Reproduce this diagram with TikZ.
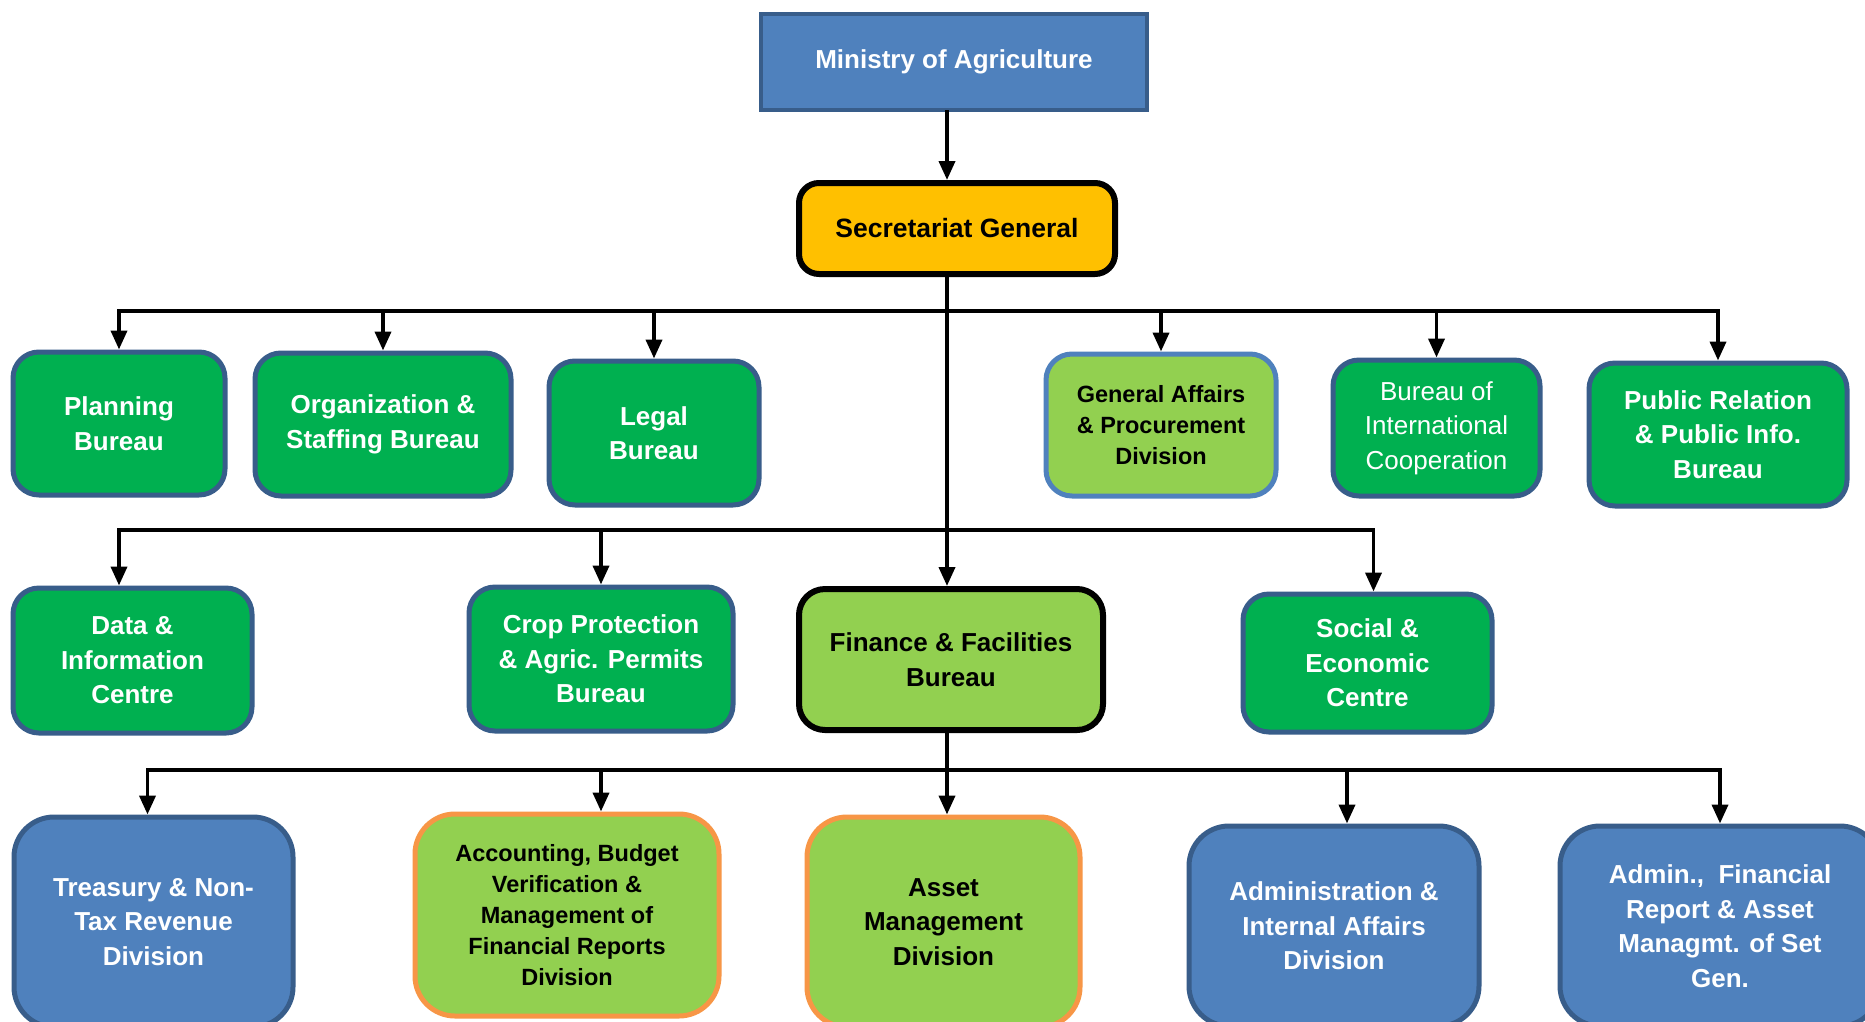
\documentclass[tikz,border=0pt]{standalone}
\usepackage{fontspec}
\setmainfont{Liberation Sans}
\usepackage{xcolor}
\usetikzlibrary{positioning,arrows.meta}
\definecolor{minblue}{HTML}{4F81BD}
\definecolor{minedge}{HTML}{385D8A}
\definecolor{bureaugreen}{HTML}{00B050}
\definecolor{divlime}{HTML}{92D050}
\definecolor{divorange}{HTML}{F79646}
\definecolor{sgyellow}{HTML}{FFC000}

\tikzset{
    unit/.style={draw=minedge, line width=5pt, rounded corners=26pt, inner sep=0pt, align=center,
        font=\bfseries\fontsize{26}{34.5}\selectfont},
    bureau/.style={unit, fill=bureaugreen, text=white},
    division/.style={unit, fill=divlime, text=black, draw=divorange, rounded corners=40pt},
    finance/.style={unit, fill=minblue, text=white, rounded corners=40pt},
    small/.style={font=\bfseries\fontsize{23.5}{30.8}\selectfont},
    link/.style={line width=3.8pt, line cap=rect},
    arr/.style={link, -{Triangle[length=19pt,width=16pt]}},
}

\begin{document}
\begin{tikzpicture}[x=1pt,y=-1pt]
    \useasboundingbox (0,0) rectangle (1865,1021);
    \clip (0,0) rectangle (1865,1021);
    \fill[white] (0,0) rectangle (1865,1021);

    % Top of the ministry
    \node[draw=minedge, line width=4pt, fill=minblue, text=white, minimum width=386pt, minimum height=96pt,
        font=\bfseries\fontsize{26}{34.5}\selectfont] (min) at (954,62) {Ministry of Agriculture};
    \node[draw=black, line width=6pt, fill=sgyellow, rounded corners=20pt, minimum width=316pt, minimum height=91pt,
        font=\bfseries\fontsize{26.5}{34.5}\selectfont] (sg) at (957,228.5) {Secretariat General};

    % First row
    \node[bureau, minimum width=212pt, minimum height=143pt] (plan) at (119,423.5) {Planning\\Bureau};
    \node[bureau, minimum width=256pt, minimum height=143pt] (org) at (383,424.5) {Organization \&\\Staffing Bureau};
    \node[bureau, minimum width=210pt, minimum height=144pt] (legal) at (654,433) {Legal\\Bureau};
    \node[unit, small, fill=divlime, draw=minblue, minimum width=230pt, minimum height=142pt] (ga) at (1161,425)
        {General Affairs\\\& Procurement\\Division};
    \node[bureau, font=\fontsize{26}{34.5}\selectfont, minimum width=207pt, minimum height=136pt] (bic) at (1436.5,428)
        {Bureau of\\International\\Cooperation};
    \node[bureau, minimum width=258pt, minimum height=143pt] (pr) at (1718,434.5) {Public Relation\\\& Public Info.\\Bureau};

    % Second row
    \node[bureau, minimum width=239pt, minimum height=145pt] (data) at (132.5,660.5) {Data \&\\Information\\Centre};
    \node[bureau, minimum width=264pt, minimum height=144pt] (crop) at (601,659) {Crop Protection\\\& Agric. Permits\\Bureau};
    \node[unit, fill=divlime, draw=black, line width=6pt, minimum width=304pt, minimum height=141pt] (fin) at (951,659.5)
        {Finance \& Facilities\\Bureau};
    \node[bureau, minimum width=249pt, minimum height=138pt] (soc) at (1367.5,663) {Social \&\\Economic\\Centre};

    % Divisions under finance
    \node[finance, minimum width=279pt, minimum height=210pt] (tre) at (153.5,922) {Treasury \& Non-\\Tax Revenue\\Division};
    \node[division, small, minimum width=304pt, minimum height=202pt] (acc) at (567,915)
        {Accounting, Budget\\Verification \&\\Management of\\Financial Reports\\Division};
    \node[division, minimum width=273pt, minimum height=210pt] (ast) at (943.5,922) {Asset\\Management\\Division};
    \node[finance, minimum width=290pt, minimum height=200pt] (adm) at (1334,926) {Administration \&\\Internal Affairs\\Division};
    \node[finance, minimum width=320pt, minimum height=200pt] (afr) at (1720,926)
        {Admin.,\ \ Financial\\Report \& Asset\\Managmt. of Set\\Gen.};

    % Connectors
    \coordinate (trunk) at (947,0);
    \coordinate (bus1) at (0,311);
    \coordinate (bus2) at (0,530);
    \coordinate (bus3) at (0,770);

    \draw[arr] (min.south -| trunk) -- (sg.north -| trunk);
    \draw[arr] (sg.south -| trunk) -- (fin.north -| trunk);
    \draw[link] (plan.north |- bus1) -- (pr.north |- bus1);
    \foreach \n in {plan,org,legal,ga,bic,pr}
        \draw[arr] (\n.north |- bus1) -- (\n.north);

    \draw[link] (plan.north |- bus2) -- ([xshift=6pt]soc.north |- bus2);
    \draw[arr] (plan.north |- bus2) -- (data.north -| plan.north);
    \draw[arr] (crop.north |- bus2) -- (crop.north);
    \draw[arr] ([xshift=6pt]soc.north |- bus2) -- ([xshift=6pt]soc.north);

    \draw[link] (fin.south -| trunk) -- (trunk |- bus3);
    \draw[link] ([xshift=-6pt]tre.north |- bus3) -- (afr.north |- bus3);
    \draw[arr] ([xshift=-6pt]tre.north |- bus3) -- ([xshift=-6pt]tre.north);
    \draw[arr] (crop.north |- bus3) -- (acc.north -| crop.north);
    \draw[arr] (trunk |- bus3) -- (ast.north -| trunk);
    \draw[arr] ([xshift=13pt]adm.north |- bus3) -- ([xshift=13pt]adm.north);
    \draw[arr] (afr.north |- bus3) -- (afr.north);
\end{tikzpicture}
\end{document}
